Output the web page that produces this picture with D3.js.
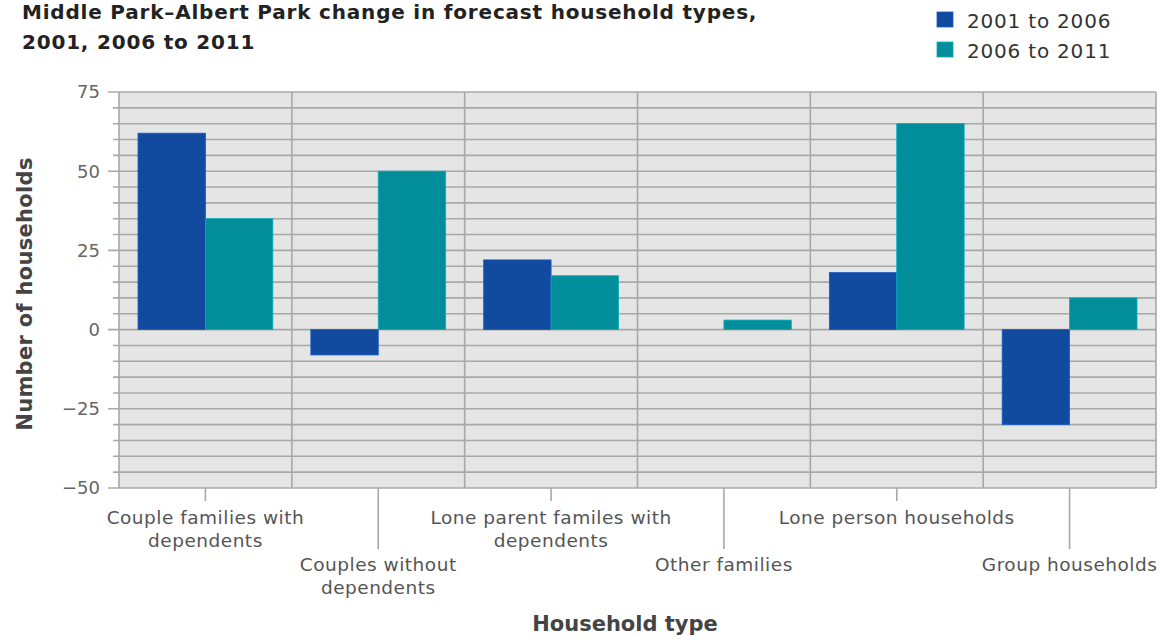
<!DOCTYPE html>
<html><head><meta charset="utf-8">
<script src="https://cdn.jsdelivr.net/npm/d3@7"></script>
<style>body{margin:0;background:#fff}svg{display:block}text{font-family:"DejaVu Sans",sans-serif}</style>
</head><body>
<svg id="c" width="1164" height="642"></svg>
<script>
const categories = [
  ["Couple families with","dependents"],
  ["Couples without","dependents"],
  ["Lone parent familes with","dependents"],
  ["Other families"],
  ["Lone person households"],
  ["Group households"]
];
const seriesNames = ["2001 to 2006","2006 to 2011"];
const series2001to2006 = [62, -8, 22, 0, 18, -30];
const series2006to2011 = [35, 50, 17, 3, 65, 10];
const yTicks = [-50, -25, 0, 25, 50, 75];
const colors = ["#124a9f", "#028d9a"];

const svg = d3.select("#c");
const L = 119, R = 1156, T = 92, B = 488;
const catIdx = categories.map((d,i)=>i);
const x0 = d3.scaleBand().domain(catIdx).range([L,R]).padding(0);
const bw = x0.bandwidth();
const x1 = d3.scaleBand().domain([0,1]).range([bw*0.11, bw*0.89]).padding(0);
const y = d3.scaleLinear().domain([-50,75]).range([B,T]);

svg.append("rect").attr("x",L).attr("y",T).attr("width",R-L).attr("height",B-T).attr("fill","#e5e5e5");

const grid = d3.range(-50, 76, 5);
svg.append("g").selectAll("line").data(grid).join("line")
  .attr("x1", d => L - (d % 25 === 0 ? 11 : 6)).attr("x2", R)
  .attr("y1", d=>y(d)).attr("y2", d=>y(d))
  .attr("stroke","#a8a8a8").attr("stroke-width",1.6);

const bounds = d3.range(0, categories.length+1).map(i => i<categories.length ? x0(i) : R);
svg.append("g").selectAll("line").data(bounds).join("line")
  .attr("x1", d=>d).attr("x2", d=>d).attr("y1", T).attr("y2", B)
  .attr("stroke","#a8a8a8").attr("stroke-width",1.6);

// bars
const data = [series2001to2006, series2006to2011];
data.forEach((vals, s) => {
  svg.append("g").selectAll("rect").data(vals).join("rect")
    .attr("x", (d,i)=> x0(i) + x1(s))
    .attr("width", x1.bandwidth())
    .attr("y", d => y(Math.max(0,d)))
    .attr("height", d => Math.abs(y(d)-y(0)))
    .attr("fill", colors[s])
    .attr("stroke", d3.color(colors[s]).brighter(0.6))
    .attr("stroke-width", d => d===0 ? 0 : 0.8);
});

// y axis labels
const fmt = d3.format("");
svg.append("g").selectAll("text").data(yTicks).join("text")
  .attr("x", 100).attr("y", d=>y(d)).attr("dy","0.35em")
  .attr("text-anchor","end").attr("font-size",18).attr("fill","#666")
  .text(d => fmt(d));

// x ticks
svg.append("g").selectAll("line").data(catIdx).join("line")
  .attr("x1", i=>x0(i)+bw/2).attr("x2", i=>x0(i)+bw/2)
  .attr("y1", B).attr("y2", i => i%2===0 ? 501 : 549)
  .attr("stroke","#a8a8a8").attr("stroke-width",1.6);

const xl = svg.append("g").selectAll("text").data(catIdx).join("text")
  .attr("x", i=>x0(i)+bw/2).attr("y", i => i%2===0 ? 524 : 571)
  .attr("text-anchor","middle").attr("font-size",18.5).attr("letter-spacing",0.5).attr("fill","#555");
xl.each(function(i){
  const t = d3.select(this);
  categories[i].forEach((line, k) => {
    t.append("tspan").attr("x", x0(i)+bw/2).attr("dy", k===0?0:23).text(line);
  });
});

// axis titles
svg.append("text").attr("x",625).attr("y",631).attr("text-anchor","middle")
  .attr("font-size",21).attr("font-weight","bold").attr("fill","#444").text("Household type");
svg.append("text").attr("transform","translate(32,294) rotate(-90)").attr("text-anchor","middle")
  .attr("font-size",21).attr("font-weight","bold").attr("letter-spacing",0.3).attr("fill","#444").text("Number of households");

// title
const title = ["Middle Park\u2013Albert Park change in forecast household types,", "2001, 2006 to 2011"];
svg.append("g").selectAll("text").data(title).join("text")
  .attr("x",22).attr("y",(d,i)=>19+i*30)
  .attr("font-size",20).attr("font-weight","bold").attr("letter-spacing",0.8).attr("fill","#222").text(d=>d);

// legend
const lg = svg.append("g").selectAll("g").data(seriesNames).join("g")
  .attr("transform",(d,i)=>`translate(937,${12+i*30})`);
lg.append("rect").attr("width",16).attr("height",15).attr("fill",(d,i)=>colors[i])
  .attr("stroke",(d,i)=>d3.color(colors[i]).brighter(0.6)).attr("stroke-width",0.8);
lg.append("text").attr("x",30).attr("y",16).attr("font-size",20).attr("letter-spacing",0.8).attr("fill","#333").text(d=>d);
</script>
</body></html>
